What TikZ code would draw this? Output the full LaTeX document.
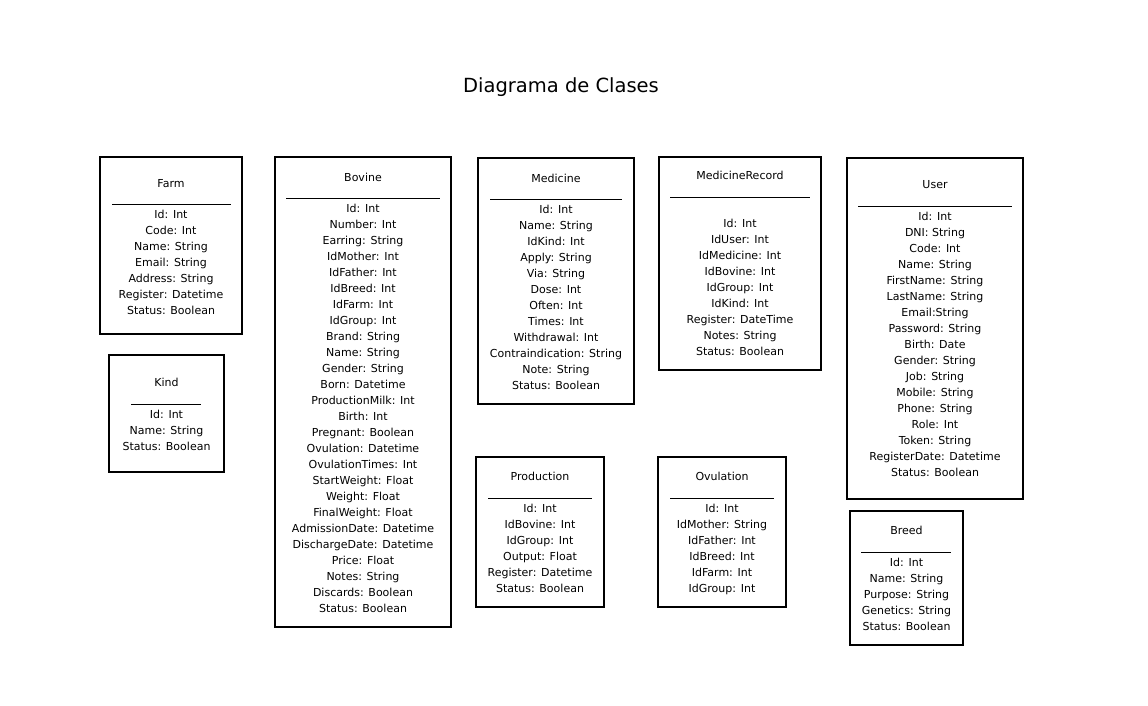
\documentclass[tikz,border=0pt]{standalone}
\usepackage{fontspec}
\setmainfont{DejaVu Sans}

\tikzset{
  classbox/.style={draw=black, line width=1.8pt, inner sep=0pt, outer sep=0pt},
  classrule/.style={draw=black, line width=0.9pt},
  classtitle/.style={font=\fontsize{11}{16}\selectfont, inner sep=0pt, anchor=base},
  classattrs/.style={font=\fontsize{11}{16}\selectfont, inner sep=0pt, anchor=north, align=center}
}

\begin{document}
\begin{tikzpicture}[x=1pt, y=-1pt]
\useasboundingbox[fill=white] (0,0) rectangle (1148,705);

\node[font=\fontsize{19.5}{24}\selectfont, inner sep=0pt, anchor=base] (title) at (561,92) {Diagrama de Clases};

% Farm
\node[classbox, minimum width=142pt, minimum height=177pt] (farm) at (171,245.5) {};
\node[classtitle] (farm title) at (171,187) {Farm};
\draw[classrule] (112,204) -- (231,204);
\node[classattrs] (farm attrs) at (171,209.6) {Id: Int\\Code: Int\\Name: String\\Email: String\\Address: String\\Register: Datetime\\Status: Boolean};

% Kind
\node[classbox, minimum width=115pt, minimum height=117pt] (kind) at (166.5,413.5) {};
\node[classtitle] (kind title) at (166.5,386) {Kind};
\draw[classrule] (131,404) -- (201,404);
\node[classattrs] (kind attrs) at (166.5,409.6) {Id: Int\\Name: String\\Status: Boolean};

% Bovine
\node[classbox, minimum width=176pt, minimum height=470pt] (bovine) at (363,392) {};
\node[classtitle] (bovine title) at (363,181) {Bovine};
\draw[classrule] (286,198) -- (440,198);
\node[classattrs] (bovine attrs) at (363,203.6) {Id: Int\\Number: Int\\Earring: String\\IdMother: Int\\IdFather: Int\\IdBreed: Int\\IdFarm: Int\\IdGroup: Int\\Brand: String\\Name: String\\Gender: String\\Born: Datetime\\ProductionMilk: Int\\Birth: Int\\Pregnant: Boolean\\Ovulation: Datetime\\OvulationTimes: Int\\StartWeight: Float\\Weight: Float\\FinalWeight: Float\\AdmissionDate: Datetime\\DischargeDate: Datetime\\Price: Float\\Notes: String\\Discards: Boolean\\Status: Boolean};

% Medicine
\node[classbox, minimum width=156pt, minimum height=246pt] (medicine) at (556,281) {};
\node[classtitle] (medicine title) at (556,182) {Medicine};
\draw[classrule] (490,199) -- (622,199);
\node[classattrs] (medicine attrs) at (556,204.6) {Id: Int\\Name: String\\IdKind: Int\\Apply: String\\Via: String\\Dose: Int\\Often: Int\\Times: Int\\Withdrawal: Int\\Contraindication: String\\Note: String\\Status: Boolean};

% MedicineRecord
\node[classbox, minimum width=162pt, minimum height=213pt] (medicine record) at (740,263.5) {};
\node[classtitle] (medicine record title) at (740,179) {MedicineRecord};
\draw[classrule] (670,197) -- (810,197);
\node[classattrs] (medicine record attrs) at (740,218.6) {Id: Int\\IdUser: Int\\IdMedicine: Int\\IdBovine: Int\\IdGroup: Int\\IdKind: Int\\Register: DateTime\\Notes: String\\Status: Boolean};

% User
\node[classbox, minimum width=176pt, minimum height=341pt] (user) at (935,328.5) {};
\node[classtitle] (user title) at (935,188) {User};
\draw[classrule] (858,206) -- (1012,206);
\node[classattrs] (user attrs) at (935,211.6) {Id: Int\\DNI: String\\Code: Int\\Name: String\\FirstName: String\\LastName: String\\Email:String\\Password: String\\Birth: Date\\Gender: String\\Job: String\\Mobile: String\\Phone: String\\Role: Int\\Token: String\\RegisterDate: Datetime\\Status: Boolean};

% Production
\node[classbox, minimum width=128pt, minimum height=150pt] (production) at (540,532) {};
\node[classtitle] (production title) at (540,480) {Production};
\draw[classrule] (488,498) -- (592,498);
\node[classattrs] (production attrs) at (540,503.6) {Id: Int\\IdBovine: Int\\IdGroup: Int\\Output: Float\\Register: Datetime\\Status: Boolean};

% Ovulation
\node[classbox, minimum width=128pt, minimum height=150pt] (ovulation) at (722,532) {};
\node[classtitle] (ovulation title) at (722,480) {Ovulation};
\draw[classrule] (670,498) -- (774,498);
\node[classattrs] (ovulation attrs) at (722,503.6) {Id: Int\\IdMother: String\\IdFather: Int\\IdBreed: Int\\IdFarm: Int\\IdGroup: Int};

% Breed
\node[classbox, minimum width=113pt, minimum height=134pt] (breed) at (906.5,578) {};
\node[classtitle] (breed title) at (906.5,534) {Breed};
\draw[classrule] (861,552) -- (951,552);
\node[classattrs] (breed attrs) at (906.5,557.6) {Id: Int\\Name: String\\Purpose: String\\Genetics: String\\Status: Boolean};
\end{tikzpicture}
\end{document}
